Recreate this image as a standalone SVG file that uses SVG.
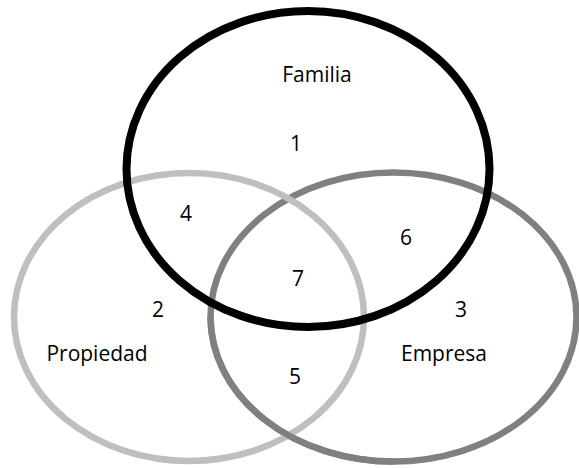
<svg xmlns="http://www.w3.org/2000/svg" width="579" height="468" viewBox="0 0 579 468">
<style>
.lbl{font-family:"Open Sans","Noto Sans","Liberation Sans",sans-serif;font-size:21px;fill:#000;text-anchor:middle}
.ring{fill:none}
</style>
<rect width="579" height="468" fill="#fff"/>
<g id="empresa">
<ellipse class="ring" cx="393.5" cy="317" rx="183" ry="144.5" stroke="#808080" stroke-width="6.5"/>
</g>
<g id="propiedad">
<ellipse class="ring" cx="189" cy="317" rx="175" ry="144" stroke="#bfbfbf" stroke-width="6.5"/>
</g>
<g id="empresa-front">
<path class="ring" d="M210.5,317 A183 144.5 0 0 0 393.5,461.5" stroke="#808080" stroke-width="6.5"/>
</g>
<g id="familia">
<ellipse class="ring" cx="308" cy="169" rx="181.5" ry="158" stroke="#000" stroke-width="8"/>
</g>
<g id="labels">
<text class="lbl" x="317" y="82">Familia</text>
<text class="lbl" x="296" y="151">1</text>
<text class="lbl" x="186" y="221">4</text>
<text class="lbl" x="406" y="245">6</text>
<text class="lbl" x="298" y="286">7</text>
<text class="lbl" x="158" y="317">2</text>
<text class="lbl" x="461" y="317">3</text>
<text class="lbl" x="97" y="361">Propiedad</text>
<text class="lbl" x="444" y="361">Empresa</text>
<text class="lbl" x="295" y="384">5</text>
</g>
</svg>
